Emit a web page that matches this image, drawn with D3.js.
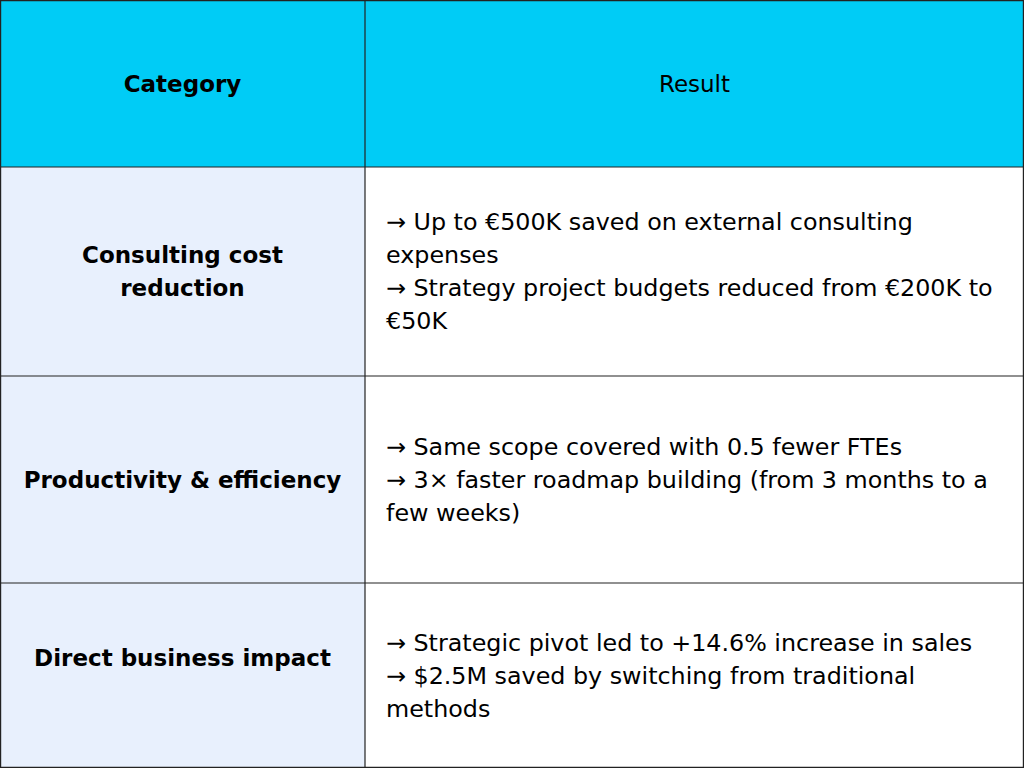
<!DOCTYPE html>
<html>
<head>
<meta charset="utf-8">
<style>
  body { margin: 0; background: #fff; }
  text { font-family: "DejaVu Sans", sans-serif; fill: #000; }
</style>
</head>
<body>
<script src="https://d3js.org/d3.v7.min.js"></script>
<script>
// table contents
var headers = ["Category", "Result"];
var categories = [
  ["Consulting cost", "reduction"],
  ["Productivity & efficiency"],
  ["Direct business impact"]
];
var results = [
  ["→ Up to €500K saved on external consulting", "expenses", "→ Strategy project budgets reduced from €200K to", "€50K"],
  ["→ Same scope covered with 0.5 fewer FTEs", "→ 3× faster roadmap building (from 3 months to a", "few weeks)"],
  ["→ Strategic pivot led to +14.6% increase in sales", "→ $2.5M saved by switching from traditional", "methods"]
];
var rowEdges = [0, 167, 376, 583, 768];
var catOffset = [0, 0, -18];

var W = 1024, H = 768, colX = 365, lineH = 33;
var svg = d3.select("body").append("svg").attr("width", W).attr("height", H);

// backgrounds
svg.append("rect").attr("x", 0).attr("y", 0).attr("width", W).attr("height", rowEdges[1]).attr("fill", "#00CCF6");
svg.append("rect").attr("x", 0).attr("y", rowEdges[1]).attr("width", colX).attr("height", H - rowEdges[1]).attr("fill", "#E8F0FD");

function block(lines, x, yc, anchor, weight, fs) {
  var t = svg.append("text").attr("text-anchor", anchor).attr("font-size", fs).attr("font-weight", weight);
  var y0 = yc - (lines.length - 1) * lineH / 2;
  lines.forEach(function(l, i) {
    t.append("tspan").attr("x", x).attr("y", y0 + i * lineH).attr("dy", "0.35em").text(l);
  });
}

block([headers[0]], colX / 2, rowEdges[1] / 2, "middle", "bold", 23);
block([headers[1]], (colX + W) / 2, rowEdges[1] / 2, "middle", "normal", 23);

categories.forEach(function(c, i) {
  var yc = (rowEdges[i + 1] + rowEdges[i + 2]) / 2;
  block(c, colX / 2, yc + catOffset[i], "middle", "bold", 23);
  block(results[i], 386, yc, "start", "normal", 23.8);
});

// grid lines
var g = svg.append("g").attr("stroke", "#222").attr("stroke-width", 1.2);
rowEdges.forEach(function(e) {
  var v = Math.min(Math.max(e, 0.6), H - 0.6);
  g.append("line").attr("x1", 0).attr("x2", W).attr("y1", v).attr("y2", v);
});
[0.6, colX, W - 0.6].forEach(function(x) {
  g.append("line").attr("x1", x).attr("x2", x).attr("y1", 0).attr("y2", H);
});
</script>
</body>
</html>
